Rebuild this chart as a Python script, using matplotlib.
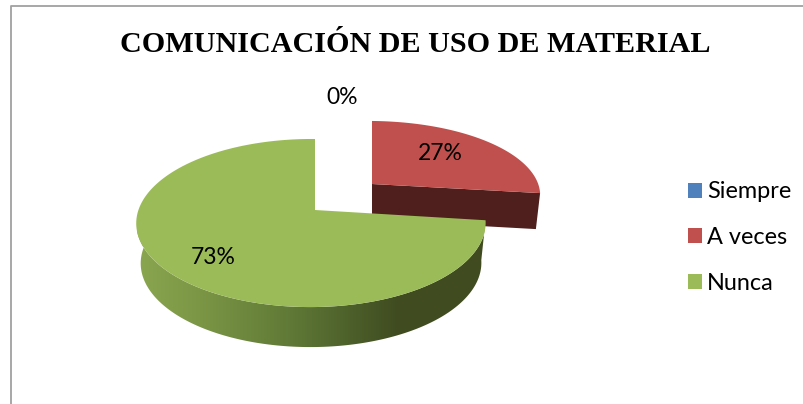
import matplotlib
matplotlib.use("Agg")
import matplotlib.pyplot as plt
import numpy as np
from matplotlib.colors import LinearSegmentedColormap
from matplotlib.patches import Patch, Polygon

# data
categories = ["Siempre", "A veces", "Nunca"]
values = [0, 27, 73]
pct_labels = ["0%", "27%", "73%"]
title = "COMUNICACIÓN DE USO DE MATERIAL"

colors = ["#4f81bd", "#c0504d", "#9bbb59"]
WALL_RED = "#4e1f1d"
TILT_K = 0.155
TILT_M = 0.023


def project(t, apex, rx, ry, shrink=1.0, depth=0.0):
    # circle seen in perspective, the apex is the centre of the circle
    w = 1 + TILT_K * np.sin(t) + TILT_M * np.cos(t)
    x = apex[0] + shrink * rx * np.cos(t) / w
    y = apex[1] - ry * np.sin(t) / w + depth
    return x, y


fig = plt.figure(figsize=(8.04, 4.04), dpi=100)
ax = fig.add_axes([0, 0, 1, 1])
ax.set_xlim(0, 804)
ax.set_ylim(404, 0)
ax.axis("off")

# frame, only left and top are in the crop
ax.plot([11, 11, 804], [404, 6, 6], color="#a0a0a0", lw=1.3)

# slice angles, clockwise from 12 o'clock
fracs = np.array(values) / sum(values)
edges = np.pi / 2 - 2 * np.pi * np.concatenate([[0], np.cumsum(fracs)])

# red slice, pulled out
red_apex = (372, 184)
red_rx, red_ry = 170, 72.8
red_depth = 36
t = np.linspace(edges[1], edges[2], 200)
x, y = project(t, red_apex, red_rx, red_ry)
tip = edges[2]
tx, ty = project(tip, red_apex, red_rx, red_ry)
bx, by = project(tip, red_apex, red_rx, red_ry, shrink=0.975, depth=red_depth)
ax.add_patch(Polygon([red_apex, (tx, ty), (bx, by), (red_apex[0], red_apex[1] + red_depth)],
                     closed=True, fc=WALL_RED, ec="none", zorder=2))
ax.add_patch(Polygon(np.column_stack([np.r_[red_apex[0], x], np.r_[red_apex[1], y]]),
                     closed=True, fc=colors[1], ec="none", zorder=3))

# green slice
green_apex = (315, 210)
green_rx, green_ry = 172.5, 82
green_depth = 40
t_wall = np.linspace(edges[2], -np.pi * 1.03, 300)
x_top, y_top = project(t_wall, green_apex, green_rx, green_ry)
x_base, y_base = project(t_wall, green_apex, green_rx, green_ry, shrink=0.975, depth=green_depth)
wall = Polygon(np.column_stack([np.r_[x_top, x_base[::-1]], np.r_[y_top, y_base[::-1]]]),
               closed=True, fc="none", ec="none", zorder=4)
ax.add_patch(wall)
wall_cmap = LinearSegmentedColormap.from_list(
    "wall", [(0, "#8ba650"), (0.18, "#7b9645"), (0.42, "#627c38"), (0.62, "#4c5f2a"), (0.75, "#404c20"), (1, "#404c20")]
)
im = ax.imshow(np.linspace(0, 1, 256).reshape(1, -1), extent=[137, 485, 350, 220],
               cmap=wall_cmap, aspect="auto", zorder=4)
im.set_clip_path(wall)
ax.set_xlim(0, 804)
ax.set_ylim(404, 0)

t = np.linspace(edges[2], edges[3], 500)
x, y = project(t, green_apex, green_rx, green_ry)
ax.add_patch(Polygon(np.column_stack([np.r_[green_apex[0], x], np.r_[green_apex[1], y]]),
                     closed=True, fc=colors[2], ec="none", zorder=5))

# labels
label_pos = [(342, 98), (440, 154), (213, 258)]
for lab, (lx, ly) in zip(pct_labels, label_pos):
    ax.text(lx, ly, lab, ha="center", va="center", fontsize=16.5, family="Lato", color="black", zorder=6)

ax.text(415, 44, title, ha="center", va="center", fontsize=21.7, weight="bold",
        family="Liberation Serif", color="black")

# legend
handles = [Patch(fc=c, ec="none") for c in colors]
ax.legend(handles, categories, loc="center left", bbox_to_anchor=(688 / 804, 1 - 237.5 / 404),
          frameon=False, prop={"family": "Lato", "size": 16.9}, handlelength=0.6, handleheight=0.6,
          handletextpad=0.2, labelspacing=1.05, borderpad=0, borderaxespad=0)

plt.savefig("out.png", dpi=100)
